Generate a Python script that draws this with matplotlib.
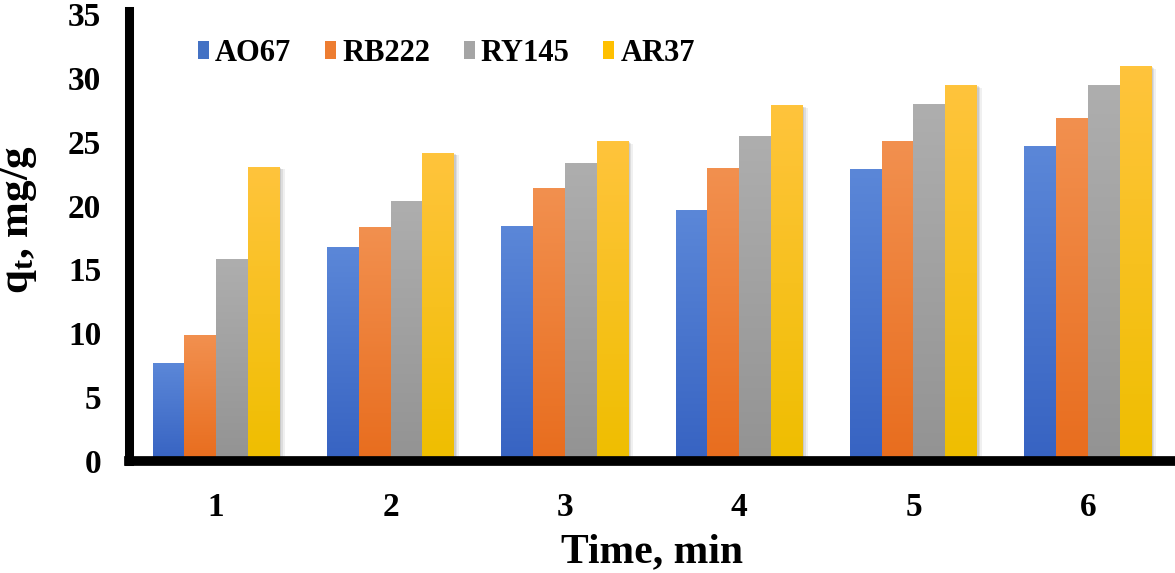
import numpy as np
import matplotlib
matplotlib.use('Agg')
import matplotlib.pyplot as plt
from matplotlib.patches import Rectangle
from matplotlib.colors import LinearSegmentedColormap

# ---- data ----
times = ['1', '2', '3', '4', '5', '6']
series_names = ['AO67', 'RB222', 'RY145', 'AR37']
ao67 = [7.6, 16.7, 18.4, 19.6, 22.8, 24.6]
rb222 = [9.8, 18.3, 21.3, 22.9, 25.0, 26.8]
ry145 = [15.8, 20.3, 23.3, 25.4, 27.9, 29.4]
ar37 = [23.0, 24.1, 25.0, 27.8, 29.4, 30.9]
yticks = [0, 5, 10, 15, 20, 25, 30, 35]
xlabel = 'Time, min'
ylabel = r'q$_{\mathrm{t}}$, mg/g'

# ---- style ----
top_colors = ['#5B87D8', '#F2904F', '#AEAEAE', '#FFC43C']
bottom_colors = ['#3763C2', '#E86D1E', '#939393', '#EFBE00']
legend_colors = ['#4472C4', '#ED7D31', '#A5A5A5', '#FFC000']

plt.rcParams['font.family'] = ['Liberation Serif', 'DejaVu Serif']
plt.rcParams['font.weight'] = 'bold'
plt.rcParams['mathtext.fontset'] = 'custom'
plt.rcParams['mathtext.rm'] = 'Liberation Serif:bold'
plt.rcParams['mathtext.it'] = 'Liberation Serif:bold'
plt.rcParams['mathtext.bf'] = 'Liberation Serif:bold'

fig = plt.figure(figsize=(11.75, 5.73), dpi=100)
ax = fig.add_axes([129 / 1175, 1 - 461 / 573, 1 - 129 / 1175, 447 / 573])

data = [ao67, rb222, ry145, ar37]
x = np.arange(len(times))
width = 0.182
offsets = (np.arange(4) - 1.5) * width

grad = np.linspace(0, 1, 128).reshape(-1, 1)
for i, vals in enumerate(data):
    cmap = LinearSegmentedColormap.from_list('g%d' % i, [bottom_colors[i], top_colors[i]])
    bars = ax.bar(x + offsets[i], vals, width, color='none', edgecolor='none', zorder=3)
    for b in bars:
        x0, y0 = b.get_x(), b.get_y()
        w, h = b.get_width(), b.get_height()
        # soft shadow
        for k, a in zip([0.028, 0.018, 0.009], [0.10, 0.14, 0.18]):
            ax.add_patch(Rectangle((x0 + k, y0), w, h - k * 6, facecolor='#707070',
                                   edgecolor='none', alpha=a, zorder=1.5))
        ax.imshow(grad, extent=[x0, x0 + w, y0, y0 + h], origin='lower',
                  aspect='auto', cmap=cmap, zorder=2, interpolation='bilinear')

ax.set_xlim(-0.5, len(times) - 0.5)
ax.set_ylim(0, 35)
ax.set_yticks(yticks)
ax.set_xticks(x)
ax.set_xticklabels(times)

for s in ['top', 'right']:
    ax.spines[s].set_visible(False)
ax.spines['left'].set_linewidth(6.5)
ax.spines['bottom'].set_linewidth(7)
ax.spines['left'].set_zorder(5)
ax.spines['bottom'].set_zorder(5)
ax.spines['left'].set_bounds(0, 35.2)

ax.tick_params(axis='both', length=0, labelsize=24)
ax.tick_params(axis='y', pad=20)
ax.tick_params(axis='x', pad=22)

ax.set_xlabel(xlabel, fontsize=30, fontweight='bold', labelpad=8)
ax.set_ylabel(ylabel, fontsize=31, fontweight='bold')
ax.yaxis.set_label_coords(-0.086, 0.54)

handles = [Rectangle((0, 0), 1, 1, facecolor=c, edgecolor='none') for c in legend_colors]
leg = ax.legend(handles, series_names, ncol=4, frameon=False, fontsize=22,
                loc='center left', bbox_to_anchor=(0.066, 0.912),
                handlelength=0.36, handleheight=0.55, handletextpad=0.2,
                columnspacing=1.1, borderpad=0, borderaxespad=0)

fig.savefig('out.png', dpi=100)
